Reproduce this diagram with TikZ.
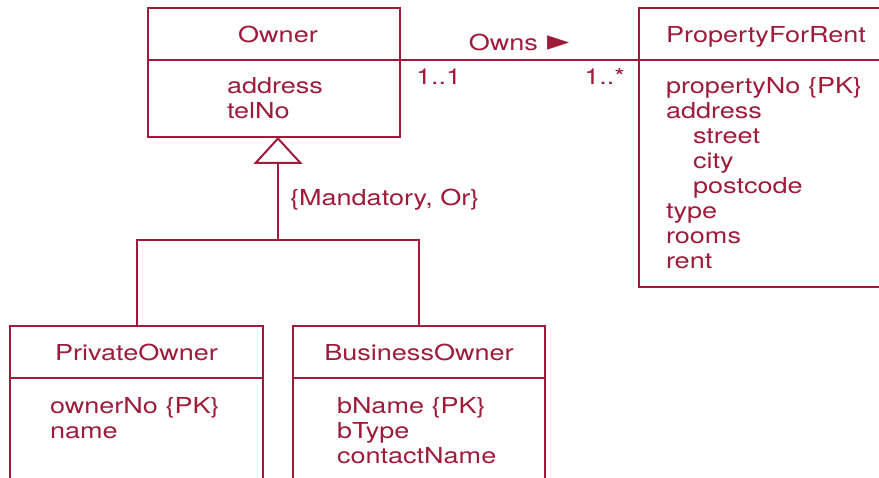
\documentclass[tikz,border=0pt]{standalone}
\usepackage{fontspec}
\setmainfont[FakeStretch=1.23]{TeX Gyre Heros}
\newfontfamily\symfont{DejaVu Sans}
\usetikzlibrary{arrows.meta}
\usetikzlibrary{positioning}
\definecolor{umlred}{RGB}{158,27,58}

\begin{document}
\begin{tikzpicture}[x=1pt,y=-1pt,line width=2pt,color=umlred,
  font=\fontsize{22}{25}\selectfont]
\tikzstyle{every node}=[inner sep=0pt,outer sep=0pt]
\tikzstyle{classname}=[draw,minimum height=52pt,text height=16.5pt,text depth=0pt]
\tikzstyle{classattrs}=[draw]
\tikzstyle{attrlist}=[align=left]
\clip (0,0) rectangle (879,478);
% classes
\node[classname,minimum width=252pt] (owner) at (274,34) {\hspace*{8pt}Owner};
\node[classattrs,minimum width=252pt,minimum height=77pt,below=0pt of owner] (ownerbox) {};
\node[attrlist,below right=17pt and 79pt of ownerbox.north west] (ownerlist) {address\\telNo};
\node[classname,minimum width=254pt] (prop) at (766,34) {PropertyForRent};
\node[classattrs,minimum width=254pt,minimum height=227pt,below=0pt of prop] (propbox) {};
\node[attrlist,below right=17pt and 27pt of propbox.north west] (proplist)
  {propertyNo \{PK\}\\address\\\hspace*{27pt}street\\\hspace*{27pt}city\\\hspace*{27pt}postcode\\type\\rooms\\rent};
\node[classname,minimum width=253pt] (priv) at (136.5,352) {PrivateOwner};
\node[classattrs,minimum width=253pt,minimum height=140pt,below=0pt of priv] (privbox) {};
\node[attrlist,below right=19pt and 40pt of privbox.north west] (privlist) {ownerNo \{PK\}\\name};
\node[classname,minimum width=252pt] (bus) at (419,352) {BusinessOwner};
\node[classattrs,minimum width=252pt,minimum height=140pt,below=0pt of bus] (busbox) {};
\node[attrlist,below right=19pt and 44pt of busbox.north west] (buslist) {bName \{PK\}\\bType\\contactName};
% association
\draw (owner.south east) -- (prop.south west)
  node[pos=0,below right=9pt and 16pt] (lowmult) {1..1}
  node[pos=1,below left=8pt and 14pt] (highmult) {1..*}
  node[midway,above=9pt] (assoc) {Owns\hspace{10pt}{\symfont\fontsize{29}{29}\selectfont ►}};
% generalization
\coordinate (split) at (278,240);
\draw[-{Triangle[open,length=27pt,width=49pt]}] (split) -- (split |- ownerbox.south)
  node[pos=0.39,right=12pt] (constraint) {\{Mandatory, Or\}};
\draw (priv.north) |- (split) -| (bus.north);
\end{tikzpicture}
\end{document}
